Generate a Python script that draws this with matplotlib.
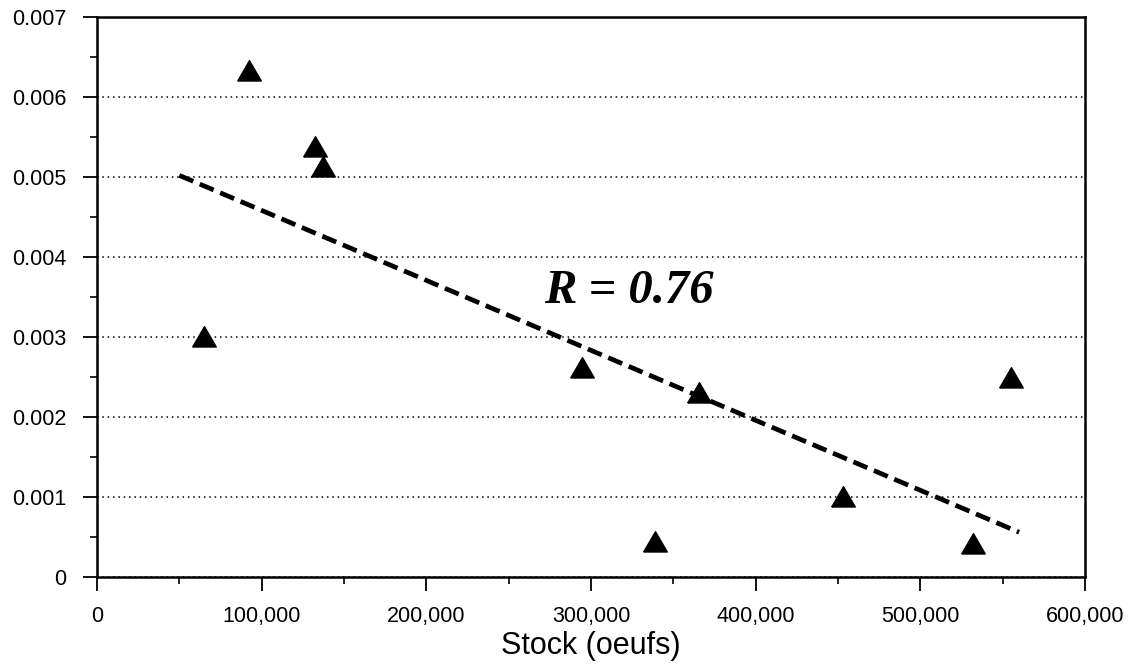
import matplotlib
matplotlib.use("Agg")
import matplotlib.pyplot as plt
from matplotlib.ticker import FuncFormatter, MultipleLocator

# data
stock = [65000, 92300, 132400, 137500, 294800, 338600, 365600, 453300, 532000, 554800]
ratio = [0.00299, 0.00631, 0.00536, 0.00511, 0.00260, 0.00042, 0.00229, 0.00099, 0.00040, 0.00248]
fit_x = [50000, 560000]
fit_y = [0.00502, 0.00056]
r_text = "R = 0.76"

plt.rcParams['font.family'] = ['Liberation Sans', 'DejaVu Sans']

fig = plt.figure(figsize=(11.33, 6.71), dpi=100)
ax = fig.add_axes([0.0856, 0.140, 0.8720, 0.8347])

# equilateral triangle marker
tri = [(-1, -0.72), (1, -0.72), (0, 1.0), (-1, -0.72)]

ax.plot(fit_x, fit_y, color='black', lw=3.4, ls=(0, (3.2, 1.5)), zorder=3)
ax.plot(stock, ratio, ls='none', marker=tri, markersize=17, color='black', zorder=4)

ax.text(322800, 0.00342, r_text, ha='center', va='baseline', fontsize=35,
        family='Liberation Serif', fontweight='bold', fontstyle='italic')

ax.set_xlim(0, 600000)
ax.set_ylim(0, 0.007)
ax.xaxis.set_major_locator(MultipleLocator(100000))
ax.xaxis.set_minor_locator(MultipleLocator(50000))
ax.yaxis.set_major_locator(MultipleLocator(0.001))
ax.yaxis.set_minor_locator(MultipleLocator(0.0005))
ax.xaxis.set_major_formatter(FuncFormatter(lambda v, p: f"{int(v):,}"))
ax.yaxis.set_major_formatter(FuncFormatter(lambda v, p: "0" if v == 0 else f"{v:.3f}"))

ax.tick_params(which='major', length=10, width=1.3, labelsize=15.5, direction='out')
ax.tick_params(which='minor', length=5, width=1.2, direction='out')
ax.tick_params(axis='x', which='major', pad=11)
ax.tick_params(axis='y', which='major', pad=12)

for s in ax.spines.values():
    s.set_linewidth(1.8)

ax.grid(axis='y', which='major', color='black', ls=(0, (1, 2.5)), lw=1.1)
ax.set_axisbelow(True)

ax.set_xlabel("Stock (oeufs)", fontsize=22, labelpad=3)

fig.savefig("out.png", dpi=100)
